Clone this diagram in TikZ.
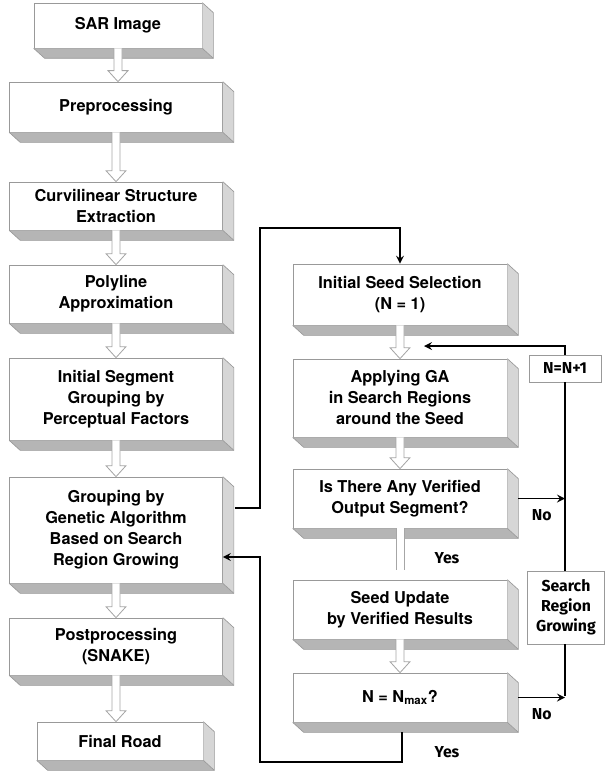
\documentclass[tikz,border=0pt]{standalone}
\usepackage{fontspec}
\setmainfont{TeX Gyre Heros}
\newfontfamily\notefont{Fira Sans}
\usetikzlibrary{positioning, arrows.meta, calc}

% 3D slab: bottom and right faces of a box node
\newcommand{\slab}[1]{%
	\fill[botface] (#1.south west) -- ++(11,10) -- ([shift={(11,10)}]#1.south east) -- (#1.south east) -- cycle;
	\fill[sideface] (#1.south east) -- ++(11,10) -- ([shift={(11,10)}]#1.north east) -- (#1.north east) -- cycle;
	\draw[rim] (#1.south west) -- ++(11,10) -- ([shift={(11,10)}]#1.south east) -- ([shift={(11,10)}]#1.north east) -- (#1.north east);
	\draw[rim] (#1.south east) -- ++(11,10);
}
% hollow arrow from one box to the next
\newcommand{\hollow}[2]{%
	\filldraw[hollowline] ($(#1.south)+(-4,0)$) -- ($(#1.south |- #2.north)+(-4,-11)$) -- ++(-6,0) -- (#1.south |- #2.north) -- ++(10,-11) -- ++(-6,0) -- ($(#1.south)+(4,0)$);
}

\begin{document}
\begin{tikzpicture}[x=0.6pt, y=-0.6pt, >=stealth,
	box/.style={draw=gray!80, line width=0.4pt, fill=white, align=center, inner sep=0pt, font=\fontsize{9.8}{12.6}\selectfont\bfseries},
	wide/.style={minimum width=127.8pt},
	mid/.style={minimum width=128.4pt},
	botface/.style={fill=gray!58},
	sideface/.style={fill=gray!32},
	rim/.style={draw=gray!80, line width=0.4pt},
	hollowline/.style={draw=gray!70, fill=white, line width=0.5pt},
	link/.style={line width=1.1pt},
	note/.style={font=\notefont\fontsize{9.5}{12}\selectfont\bfseries},
	tag/.style={draw=gray!80, line width=0.4pt, fill=white, align=center, inner sep=0pt, note}]
	
	\useasboundingbox (0,0) rectangle (608,778);
	
	% Main chain
	\node[box, minimum width=100.8pt, minimum height=27pt] (sar) at (118,25.5) {SAR Image};
	\node[box, wide, minimum height=30pt] (pre) at (116,107) {Preprocessing};
	\node[box, wide, minimum height=28.8pt] (curv) at (116,206) {Curvilinear Structure\\Extraction};
	\node[box, wide, minimum height=34.8pt] (poly) at (116,294) {Polyline\\Approximation};
	\node[box, wide, minimum height=49.2pt] (init) at (116,399) {Initial Segment\\Grouping by\\Perceptual Factors};
	\node[box, wide, minimum height=63.6pt] (grp) at (116,530) {Grouping by\\Genetic Algorithm\\Based on Search\\Region Growing};
	\node[box, wide, minimum height=34.2pt] (post) at (116,646.5) {Postprocessing\\(SNAKE)};
	\node[box, minimum width=99.6pt, minimum height=22.8pt] (road) at (120,741) {Final Road};
	
	% GA loop
	\node[box, mid, minimum height=36.6pt] (seed) at (400,294.5) {Initial Seed Selection\\(N = 1)};
	\node[box, mid, minimum height=46.8pt] (apply) at (400,398) {Applying GA\\in Search Regions\\around the Seed};
	\node[box, mid, minimum height=35.4pt] (verify) at (400,498.5) {Is There Any Verified\\Output Segment?};
	\node[box, mid, minimum height=35.4pt] (update) at (400,609.5) {Seed Update\\by Verified Results};
	\node[box, mid, minimum height=29.4pt] (nmax) at (400,697.5) {N = N\textsubscript{max}?};
	
	% Side labels
	\node[tag, minimum width=43.2pt, minimum height=16.2pt] (incr) at (565,368.5) {N=N+1};
	\node[tag, minimum width=46pt, minimum height=43.8pt] (grow) at (566,607.5) {Search\\Region\\Growing};
	
	\foreach \b in {sar,pre,curv,poly,init,grp,post,road,seed,apply,verify,update,nmax}
		\slab{\b};
	
	% Hollow arrows
	\hollow{sar}{pre}
	\hollow{pre}{curv}
	\hollow{curv}{poly}
	\hollow{poly}{init}
	\hollow{init}{grp}
	\hollow{grp}{post}
	\hollow{post}{road}
	\hollow{seed}{apply}
	\hollow{apply}{verify}
	\hollow{update}{nmax}
	\fill[white] ($(verify.south)+(-4,0)$) rectangle ($(verify.south)+(4,42)$);
	\draw[hollowline] ($(verify.south)+(-4,0)$) -- ++(0,42);
	\draw[hollowline] ($(verify.south)+(4,0)$) -- ++(0,42);
	\node[note] (yes1) at (447,558) {Yes};
	
	% Links
	\coordinate (bend) at (260,228);
	\coordinate (ret) at (260,762);
	\coordinate (loopbot) at (565,696);
	\coordinate (gain) at (424,346);
	\draw[link,->] ([shift={(12,-22)}]grp.east) -| (bend) -| (seed.north);
	\draw[link,->] ([shift={(2,10)}]nmax.south) |- (ret) |- ([shift={(0,27)}]grp.east);
	\node[note] (yes2) at (447,752) {Yes};
	
	\draw[link,->] ([xshift=6.6pt]verify.east) -- (verify.east -| loopbot) node[midway, below=3pt, note] (no1) {No};
	\draw[link,->] ([xshift=6.6pt]nmax.east) -- (nmax.east -| loopbot) node[midway, below=3pt, note] (no2) {No};
	\draw[link] (loopbot) -- (loopbot |- grow.south);
	\draw[link] (loopbot |- grow.north) -- (loopbot |- incr.south);
	\draw[link,->] (loopbot |- incr.north) |- (gain);
	
\end{tikzpicture}
\end{document}
